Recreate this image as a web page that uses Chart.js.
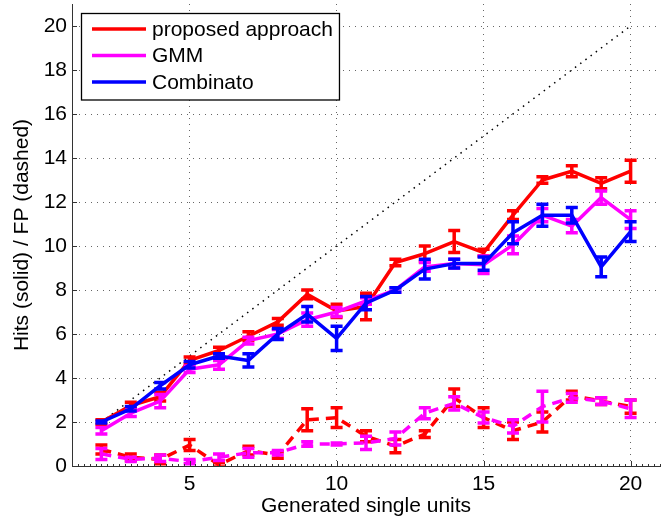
<!DOCTYPE html>
<html>
<head>
<meta charset="utf-8">
<script src="https://cdn.jsdelivr.net/npm/chart.js@4/dist/chart.umd.min.js"></script>
<style>
html,body{margin:0;padding:0;background:#fff;}
#c{display:block;}
</style>
</head>
<body>
<canvas id="c" width="671" height="519"></canvas>
<script>
// ---- data ----
const units = [2,3,4,5,6,7,8,9,10,11,12,13,14,15,16,17,18,19,20];
const proposedHits    = [2.0,2.75,3.15,4.8,5.25,5.9,6.55,7.8,7.05,7.25,9.25,9.65,10.2,9.7,11.4,13.0,13.4,12.85,13.4];
const proposedHitsErr = [0.1,0.15,0.2,0.15,0.15,0.2,0.15,0.2,0.3,0.6,0.15,0.35,0.5,0.15,0.2,0.15,0.25,0.25,0.5];
const gmmHits    = [1.6,2.4,2.95,4.4,4.6,5.7,6.0,6.65,7.0,7.5,8.0,9.05,9.2,9.15,10.05,11.4,10.9,12.2,11.2];
const gmmHitsErr = [0.15,0.15,0.3,0.15,0.2,0.15,0.2,0.3,0.2,0.15,0.1,0.2,0.2,0.4,0.4,0.3,0.3,0.3,0.4];
const combinatoHits    = [2.0,2.6,3.65,4.6,5.0,4.8,6.0,6.9,5.8,7.4,8.0,8.95,9.2,9.2,10.6,11.4,11.4,9.05,10.65];
const combinatoHitsErr = [0.05,0.1,0.15,0.15,0.1,0.3,0.25,0.35,0.55,0.3,0.1,0.45,0.2,0.3,0.5,0.5,0.35,0.45,0.45];
const proposedFP    = [0.75,0.4,0.3,0.95,0.05,0.7,0.5,2.1,2.2,1.35,0.9,1.45,3.1,2.2,1.6,2.0,3.2,2.95,2.7];
const proposedFPErr = [0.2,0.15,0.2,0.25,0.1,0.2,0.15,0.5,0.45,0.25,0.3,0.15,0.4,0.45,0.4,0.45,0.2,0.15,0.3];
const gmmFP    = [0.55,0.3,0.35,0.2,0.4,0.6,0.6,1.0,1.0,1.05,1.25,2.4,2.85,2.2,1.8,2.7,3.1,2.95,2.6];
const gmmFPErr = [0.25,0.1,0.15,0.1,0.15,0.2,0.1,0.1,0.05,0.3,0.3,0.25,0.3,0.25,0.3,0.7,0.2,0.15,0.4];
const diagX = [2,20];
const diagY = [2,20];
const xTicks = [5,10,15,20];
const yTicks = [0,2,4,6,8,10,12,14,16,18,20];
const legendLabels = ['proposed approach','GMM','Combinato'];

const RED='#ff0000', MAG='#ff00ff', BLUE='#0000ff';
const FONT = "'Liberation Sans', Arial, Helvetica, sans-serif";
const LW = 3.5;

function pts(xs, ys){ return xs.map((x,i)=>({x:x,y:ys[i]})); }

const datasets = [
  {label:legendLabels[2], data:pts(units,combinatoHits), errors:combinatoHitsErr, borderColor:BLUE, borderWidth:LW, order:0},
  {label:'GMM FP', data:pts(units,gmmFP), errors:gmmFPErr, borderColor:MAG, borderWidth:LW, borderDash:[10,7], order:1},
  {label:legendLabels[1], data:pts(units,gmmHits), errors:gmmHitsErr, borderColor:MAG, borderWidth:LW, order:2},
  {label:'proposed FP', data:pts(units,proposedFP), errors:proposedFPErr, borderColor:RED, borderWidth:LW, borderDash:[10,7], order:3},
  {label:legendLabels[0], data:pts(units,proposedHits), errors:proposedHitsErr, borderColor:RED, borderWidth:LW, order:4},
  {label:'diag', data:pts(diagX,diagY), borderColor:'#000', borderWidth:1.5, borderDash:[1.5,5], order:5}
];
datasets.forEach(d=>{ d.pointRadius=0; d.tension=0; d.fill=false; d.borderJoinStyle='round'; });

const errorBarPlugin = {
  id:'errbars',
  afterDatasetDraw(chart, args){
    const ds = chart.data.datasets[args.index];
    if(!ds.errors) return;
    const ctx = chart.ctx, xs = chart.scales.x, ys = chart.scales.y;
    const ca = chart.chartArea;
    ctx.save();
    ctx.beginPath(); ctx.rect(ca.left, ca.top-2, ca.right-ca.left, ca.bottom-ca.top+2); ctx.clip();
    ctx.strokeStyle = ds.borderColor; ctx.lineWidth = LW; ctx.setLineDash([]);
    ds.data.forEach((p,i)=>{
      const e = ds.errors[i];
      const px = xs.getPixelForValue(p.x);
      const y1 = ys.getPixelForValue(p.y - e), y2 = ys.getPixelForValue(p.y + e);
      ctx.beginPath();
      ctx.moveTo(px, y1); ctx.lineTo(px, y2);
      ctx.moveTo(px-6, y1); ctx.lineTo(px+6, y1);
      ctx.moveTo(px-6, y2); ctx.lineTo(px+6, y2);
      ctx.stroke();
    });
    ctx.restore();
  }
};

const axisPlugin = {
  id:'axisdeco',
  afterDraw(chart){
    const ctx = chart.ctx, xs = chart.scales.x, ys = chart.scales.y, ca = chart.chartArea;
    ctx.save();
    ctx.strokeStyle = '#333'; ctx.lineWidth = 1;
    ctx.beginPath();
    for(let v = xs.min; v <= xs.max + 1e-9; v += 0.2){
      const px = Math.round(xs.getPixelForValue(v)) + 0.5;
      ctx.moveTo(px, ca.bottom); ctx.lineTo(px, ca.bottom - 2);
    }
    xTicks.forEach(v=>{
      const px = Math.round(xs.getPixelForValue(v)) + 0.5;
      ctx.moveTo(px, ca.bottom); ctx.lineTo(px, ca.bottom - 5);
    });
    yTicks.forEach(v=>{
      const py = Math.round(ys.getPixelForValue(v)) + 0.5;
      ctx.moveTo(ca.left, py); ctx.lineTo(ca.left + 5, py);
    });
    ctx.stroke();
    // legend
    const lx = ca.left + 9, ly = ca.top + 9;
    ctx.font = '21px ' + FONT;
    let tw = 0; legendLabels.forEach(t=>{ tw = Math.max(tw, ctx.measureText(t).width); });
    const rowH = 26.5;
    const bw = 71 + tw + 6, bh = rowH*3 + 7;
    ctx.fillStyle = '#fff';
    ctx.fillRect(lx, ly, bw, bh);
    ctx.strokeStyle = '#000'; ctx.lineWidth = 1.3;
    ctx.strokeRect(lx+0.5, ly+0.5, bw, bh);
    const cols = [RED, MAG, BLUE];
    legendLabels.forEach((t,i)=>{
      const cy = ly + 16 + i*rowH;
      ctx.strokeStyle = cols[i]; ctx.lineWidth = LW;
      ctx.beginPath(); ctx.moveTo(lx+11, cy); ctx.lineTo(lx+65, cy); ctx.stroke();
      ctx.fillStyle = '#000'; ctx.textBaseline = 'middle'; ctx.textAlign = 'left';
      ctx.fillText(t, lx + 71, cy + 1);
    });
    ctx.restore();
  }
};

new Chart(document.getElementById('c'), {
  type:'line',
  data:{datasets:datasets},
  options:{
    responsive:false, animation:false,
    layout:{padding:{top:4, right:11, left:0, bottom:0}},
    plugins:{legend:{display:false}, tooltip:{enabled:false}},
    scales:{
      x:{
        type:'linear', min:1, max:21,
        afterBuildTicks(s){ s.ticks = xTicks.map(v=>({value:v})); },
        afterFit(s){ s.height = 53; s.paddingLeft = 0; s.paddingRight = 0; },
        ticks:{color:'#000', font:{family:FONT, size:21}, padding:6, maxRotation:0},
        grid:{color:'#666', lineWidth:1, drawTicks:false},
        border:{display:true, color:'#333', width:1, dash:[1,5]},
        title:{display:true, text:'Generated single units', color:'#000', font:{family:FONT, size:21}, padding:{top:0,bottom:0}}
      },
      y:{
        type:'linear', min:0, max:21,
        afterBuildTicks(s){ s.ticks = yTicks.map(v=>({value:v})); },
        afterFit(s){ s.width = 72; s.paddingTop = 0; s.paddingBottom = 0; },
        ticks:{color:'#000', font:{family:FONT, size:21}, padding:5},
        grid:{color:'#666', lineWidth:1, drawTicks:false},
        border:{display:true, color:'#333', width:1, dash:[1,5]},
        title:{display:true, text:'Hits (solid) / FP (dashed)', color:'#000', font:{family:FONT, size:21}, padding:{top:10,bottom:0}}
      }
    }
  },
  plugins:[errorBarPlugin, axisPlugin]
});
</script>
</body>
</html>
